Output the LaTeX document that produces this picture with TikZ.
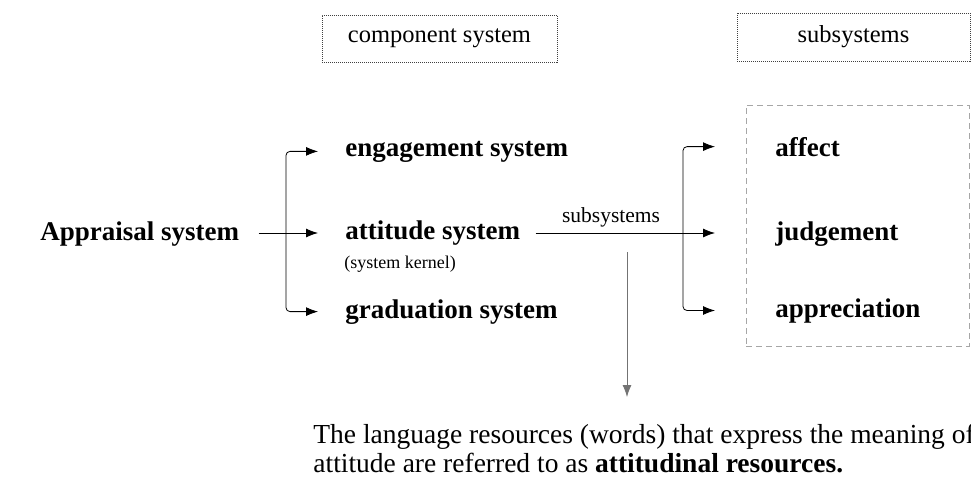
\documentclass[tikz,border=0pt]{standalone}
\usepackage{fontspec}
\setmainfont{Liberation Serif}
\usetikzlibrary{arrows.meta,positioning}

\begin{document}
\begin{tikzpicture}[x=1pt,y=-1pt,->,>={Latex[length=12pt,width=9pt]},line width=0.8pt]
  \tikzstyle{every node}=[inner sep=0pt,text=black]
  \tikzstyle{item}=[font=\fontsize{27}{30}\selectfont\bfseries,anchor=base west]
  \tikzstyle{note}=[font=\fontsize{27.5}{30}\selectfont,anchor=base west]
  \tikzstyle{headbox}=[draw=black!75,dash pattern=on 1pt off 1pt,font=\fontsize{24.5}{28}\selectfont]
  \clip (0,0) rectangle (971,477);

  % top labels
  \node[headbox,minimum width=235,minimum height=47] (hcomp) at (439.5,38.5) {component system};
  \node[headbox,minimum width=233,minimum height=48] (hsub) at (853.5,37) {subsystems};

  \node[item] (appraisal) at (40,240)  {Appraisal system};
  \node[item] (engage)    at (345,156) {engagement system};
  \node[item] (attitude)  at (345,239) {attitude system};
  \node[font=\fontsize{18}{20}\selectfont,anchor=base west] (kernel) at (344,268) {(system kernel)};
  \node[item] (grad)      at (345,318) {graduation system};

  \node[draw=black!35,dash pattern=on 6pt off 4pt,minimum width=223,minimum height=241] (subbox) at (857.5,225.5) {};
  \node[item] (affect)  at (775,156) {affect};
  \node[item] (judge)   at (775,240) {judgement};
  \node[item] (apprec)  at (775,317) {appreciation};

  \node[note] (note1) at (313,443) {The language resources (words) that express the meaning of};
  \node[note] (note2) at (313,472) {attitude are referred to as \textbf{attitudinal resources.}};
  \node[font=\fontsize{21.5}{24}\selectfont,anchor=base] (sublabel) at (611,222) {subsystems};

  \coordinate (fork1) at (286,233);
  \coordinate (fork2) at (683,233);
  \coordinate (split) at (627,252);
  \coordinate (down) at (627,397);

  \draw[shorten <=19pt,shorten >=27pt] (appraisal.east |- fork1) -- (attitude.west |- fork1);
  \draw[rounded corners=4pt,shorten >=27pt] (fork1) |- (engage.west);
  \draw[rounded corners=4pt,shorten >=27pt] (fork1) |- (grad.west);

  \draw[shorten <=15pt,shorten >=60pt] (attitude.east |- fork2) -- (judge.west |- fork2);
  \draw[rounded corners=4pt,shorten >=60pt] (fork2) |- (affect.west);
  \draw[rounded corners=4pt,shorten >=60pt] (fork2) |- (apprec.west);

  \draw[black!55] (split) -- (down);
\end{tikzpicture}
\end{document}
